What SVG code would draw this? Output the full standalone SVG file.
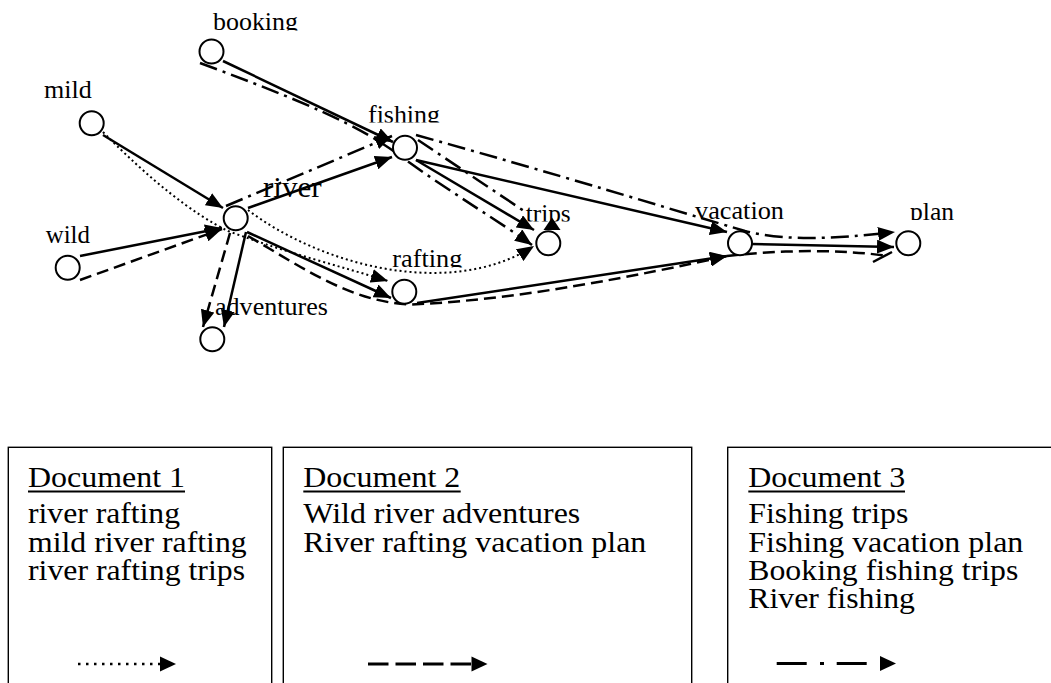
<svg xmlns="http://www.w3.org/2000/svg" width="1051" height="683" viewBox="0 0 1051 683">
<style>
.c{stroke:#000;stroke-width:2.5;fill:none}
.da{stroke-dasharray:12 6}
.dd{stroke-dasharray:18 6 3 6}
.dt{stroke-width:2;stroke-dasharray:2 3}
.node circle{fill:#fff;stroke:#000;stroke-width:2}
text{font-family:"Liberation Serif","Times New Roman",serif;fill:#000}
.lbl{font-size:26px}
.leg{font-size:30px}
.box{fill:none;stroke:#000;stroke-width:1.4}
</style>
<defs>
<marker id="ah" viewBox="0 0 17 14" refX="17" refY="7" markerWidth="17" markerHeight="14" markerUnits="userSpaceOnUse" orient="auto">
<path d="M0,0 L17,7 L0,14 Z" fill="#000" stroke="none"/>
</marker>
<clipPath id="cBooking" clipPathUnits="userSpaceOnUse"><rect x="200" y="0" width="120" height="30.5"/></clipPath>
<clipPath id="cFishing" clipPathUnits="userSpaceOnUse"><rect x="360" y="95" width="90" height="27.5"/></clipPath>
<clipPath id="cTrips" clipPathUnits="userSpaceOnUse"><rect x="520" y="195" width="60" height="26.5"/></clipPath>
<clipPath id="cRafting" clipPathUnits="userSpaceOnUse"><rect x="385" y="240" width="85" height="27.5"/></clipPath>
<clipPath id="cPlan" clipPathUnits="userSpaceOnUse"><rect x="905" y="195" width="60" height="25"/></clipPath>
</defs>

<g id="connectors">
  <!-- solid (all documents) -->
  <line class="c" x1="223" y1="61" x2="393" y2="142" marker-end="url(#ah)"/>
  <line class="c" x1="103" y1="135" x2="223" y2="208" marker-end="url(#ah)"/>
  <line class="c" x1="80" y1="256" x2="222" y2="228" marker-end="url(#ah)"/>
  <line class="c" x1="248" y1="208" x2="392" y2="157" marker-end="url(#ah)"/>
  <line class="c" x1="246" y1="232" x2="224" y2="327" marker-end="url(#ah)"/>
  <line class="c" x1="247" y1="232" x2="391" y2="298" marker-end="url(#ah)"/>
  <line class="c" x1="416" y1="160" x2="534" y2="230" marker-end="url(#ah)"/>
  <line class="c" x1="416" y1="160" x2="727" y2="232" marker-end="url(#ah)"/>
  <line class="c" x1="417" y1="303" x2="727" y2="256" marker-end="url(#ah)"/>
  <line class="c" x1="752" y1="244" x2="894" y2="247" marker-end="url(#ah)"/>
  <path d="M552,217.5 L560.5,230 L543.5,230 Z" fill="#000"/>
  <!-- Document 1: dotted -->
  <path class="c dt" d="M103,132 Q175,205 228,231 C290,254 340,266 388,281" marker-end="url(#ah)"/>
  <path class="c dt" d="M248,210 C320,265 450,300 534,246" marker-end="url(#ah)"/>
  <!-- Document 2: dashed -->
  <line class="c da" x1="80" y1="280" x2="222" y2="229" marker-end="url(#ah)"/>
  <line class="c da" x1="230" y1="233" x2="203" y2="327" marker-end="url(#ah)"/>
  <path class="c da" d="M248,236 C300,266 350,302 410,304.5 C520,300 640,275 727,256" marker-end="url(#ah)"/>
  <path class="c da" d="M727,256 C780,250 840,249 888,256"/>
  <line class="c" x1="873" y1="262" x2="892" y2="252" stroke-width="3"/>
  <!-- Document 3: dash-dot -->
  <path class="c dd" d="M200,63 C300,100 360,125 403,158 C450,192 500,222 532,245" marker-end="url(#ah)"/>
  <line class="c dd" x1="226" y1="206" x2="392" y2="136" marker-end="url(#ah)"/>
  <line class="c dd" x1="418" y1="140" x2="527" y2="213"/>
  <path class="c dd" d="M416,135 C550,172 680,212 745,231 C790,243 850,237 895,232" marker-end="url(#ah)"/>
</g>

<g id="node-booking" class="node">
  <circle cx="211.5" cy="51.5" r="12"/>
  <text class="lbl" x="213" y="29.5" textLength="85" lengthAdjust="spacingAndGlyphs" clip-path="url(#cBooking)">booking</text>
</g>
<g id="node-mild" class="node">
  <circle cx="91.7" cy="123.3" r="12"/>
  <text class="lbl" x="44" y="97.7" textLength="47.7" lengthAdjust="spacingAndGlyphs">mild</text>
</g>
<g id="node-wild" class="node">
  <circle cx="67.7" cy="267.7" r="12"/>
  <text class="lbl" x="45.7" y="242.7" textLength="44.3" lengthAdjust="spacingAndGlyphs">wild</text>
</g>
<g id="node-river" class="node">
  <circle cx="235.7" cy="218.3" r="12"/>
  <text x="263" y="197" font-size="29" textLength="58.7" lengthAdjust="spacingAndGlyphs">river</text>
</g>
<g id="node-fishing" class="node">
  <circle cx="405" cy="147.7" r="12"/>
  <text class="lbl" x="368" y="122.5" textLength="72" lengthAdjust="spacingAndGlyphs" clip-path="url(#cFishing)">fishing</text>
</g>
<g id="node-trips" class="node">
  <circle cx="548.3" cy="243.3" r="12"/>
  <text class="lbl" x="525.7" y="221.5" textLength="45" lengthAdjust="spacingAndGlyphs" clip-path="url(#cTrips)">trips</text>
</g>
<g id="node-rafting" class="node">
  <circle cx="404.3" cy="291.7" r="12"/>
  <text class="lbl" x="392.3" y="267" textLength="70" lengthAdjust="spacingAndGlyphs" clip-path="url(#cRafting)">rafting</text>
</g>
<g id="node-adventures" class="node">
  <circle cx="212.3" cy="339.3" r="12"/>
  <text class="lbl" x="215" y="315" textLength="113" lengthAdjust="spacingAndGlyphs">adventures</text>
</g>
<g id="node-vacation" class="node">
  <circle cx="740" cy="243.3" r="12"/>
  <text class="lbl" x="695" y="219" textLength="89" lengthAdjust="spacingAndGlyphs">vacation</text>
</g>
<g id="node-plan" class="node">
  <circle cx="908.3" cy="243.3" r="12"/>
  <text class="lbl" x="910" y="219.5" textLength="44" lengthAdjust="spacingAndGlyphs" clip-path="url(#cPlan)">plan</text>
</g>

<g id="doc1">
  <rect class="box" x="8.3" y="447.3" width="263.4" height="300"/>
  <text class="leg" x="28" y="487" textLength="157" lengthAdjust="spacingAndGlyphs">Document 1</text>
  <line x1="28" y1="491.5" x2="185" y2="491.5" stroke="#000" stroke-width="2"/>
  <text class="leg" x="28" y="523" textLength="152" lengthAdjust="spacingAndGlyphs">river rafting</text>
  <text class="leg" x="28" y="551.5" textLength="218.7" lengthAdjust="spacingAndGlyphs">mild river rafting</text>
  <text class="leg" x="28" y="580" textLength="217" lengthAdjust="spacingAndGlyphs">river rafting trips</text>
  <line x1="78" y1="664" x2="160" y2="664" stroke="#000" stroke-width="2.5" stroke-dasharray="2.5 5.5"/>
  <path d="M160,656.5 L176,664 L160,671.5 Z" fill="#000"/>
</g>
<g id="doc2">
  <rect class="box" x="283.3" y="447.3" width="408.4" height="300"/>
  <text class="leg" x="303.3" y="487" textLength="157" lengthAdjust="spacingAndGlyphs">Document 2</text>
  <line x1="303.3" y1="491.5" x2="460.7" y2="491.5" stroke="#000" stroke-width="2"/>
  <text class="leg" x="303.3" y="523" textLength="277" lengthAdjust="spacingAndGlyphs">Wild river adventures</text>
  <text class="leg" x="303.3" y="551.5" textLength="343" lengthAdjust="spacingAndGlyphs">River rafting vacation plan</text>
  <line x1="368" y1="664" x2="472" y2="664" stroke="#000" stroke-width="3" stroke-dasharray="20.5 7"/>
  <path d="M471.5,656.5 L487.5,664 L471.5,671.5 Z" fill="#000"/>
</g>
<g id="doc3">
  <rect class="box" x="727.7" y="447.3" width="400" height="300"/>
  <text class="leg" x="748.3" y="487" textLength="157" lengthAdjust="spacingAndGlyphs">Document 3</text>
  <line x1="748.3" y1="491.5" x2="905" y2="491.5" stroke="#000" stroke-width="2"/>
  <text class="leg" x="748.3" y="523" textLength="160" lengthAdjust="spacingAndGlyphs">Fishing trips</text>
  <text class="leg" x="748.3" y="551.5" textLength="275" lengthAdjust="spacingAndGlyphs">Fishing vacation plan</text>
  <text class="leg" x="748.3" y="580" textLength="270" lengthAdjust="spacingAndGlyphs">Booking fishing trips</text>
  <text class="leg" x="748.3" y="608" textLength="166.7" lengthAdjust="spacingAndGlyphs">River fishing</text>
  <line x1="776.7" y1="663.5" x2="866.7" y2="663.5" stroke="#000" stroke-width="3" stroke-dasharray="30 13.3 4 12.7"/>
  <path d="M880,656 L896,663.5 L880,671 Z" fill="#000"/>
</g>
</svg>
